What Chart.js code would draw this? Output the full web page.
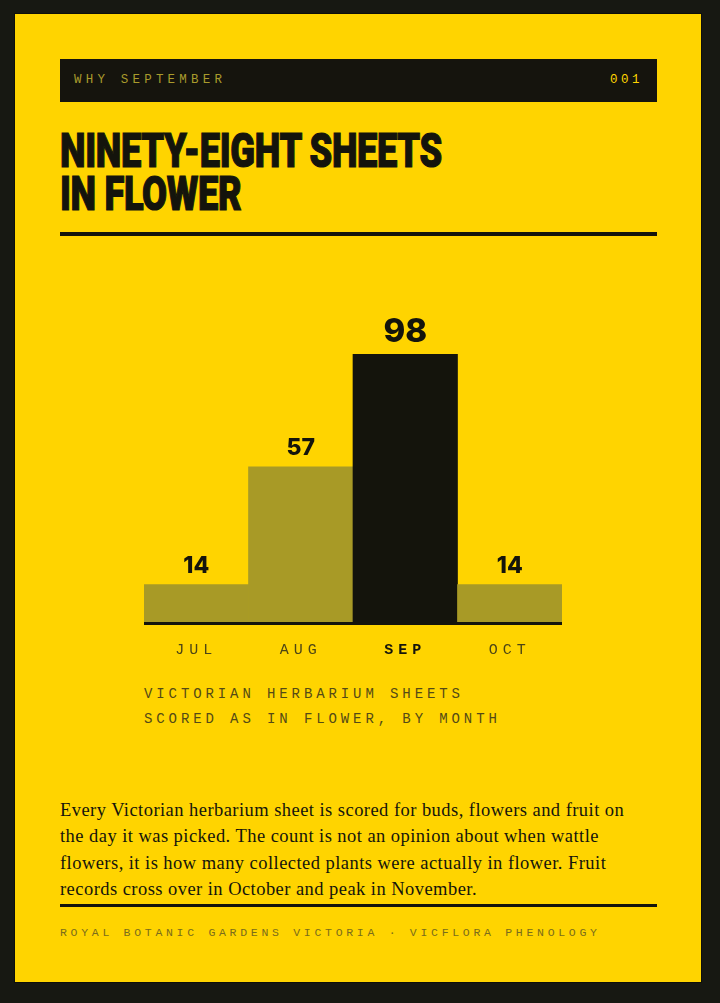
<!DOCTYPE html>
<html>
<head>
<meta charset="utf-8">
<script src="https://cdn.jsdelivr.net/npm/chart.js@4.4.1/dist/chart.umd.min.js"></script>
<style>
  html, body { margin: 0; padding: 0; }
  body { width: 720px; height: 1003px; background: #171812; position: relative; overflow: hidden; }
  .card { position: absolute; left: 14px; top: 13px; width: 686px; height: 968px; background: #ffd400; border: 1px solid #0e0f0a; }
  .abs { position: absolute; }
  .topbar { left: 60px; top: 59px; width: 597px; height: 43px; background: #15140d; }
  .mono { font-family: "Courier New", Courier, "Liberation Mono", "DejaVu Sans Mono", monospace; white-space: nowrap; }
  .kicker { left: 74px; top: 72px; font-size: 12.5px; letter-spacing: 4.2px; color: #a99b2c; line-height: 16px; }
  .num { right: 77px; top: 72px; font-size: 12.5px; letter-spacing: 3.5px; color: #ffd400; line-height: 16px; }
  .title { left: 60px; top: 129px; font-family: Roboto, "Liberation Sans", sans-serif; font-weight: 900; font-size: 49px; line-height: 43px; color: #14140c; letter-spacing: -0.5px; -webkit-text-stroke: 1.2px #14140c; }
  .title span { display: block; transform-origin: 0 0; white-space: nowrap; }
  .rule { left: 60px; width: 597px; background: #14140c; }
  .chartbox { left: 144px; top: 294px; width: 418px; height: 383px; }
  .caption { left: 144px; top: 682px; font-size: 14px; letter-spacing: 3.9px; line-height: 25px; color: #544a16; }
  .body { left: 60px; top: 797px; font-family: "Liberation Serif", "DejaVu Serif", serif; font-size: 18.5px; letter-spacing: 0.45px; line-height: 26.4px; color: #14140c; white-space: nowrap; }
  .foot { left: 60px; top: 926px; font-size: 11.5px; letter-spacing: 3.7px; color: #7a6c1c; line-height: 14px; }
</style>
</head>
<body>
<div class="card"></div>
<div class="abs topbar"></div>
<div class="abs mono kicker">WHY SEPTEMBER</div>
<div class="abs mono num">001</div>
<div class="abs title"><span id="t1">NINETY-EIGHT SHEETS</span><span id="t2">IN FLOWER</span></div>
<div class="abs rule" style="top:232px;height:4px"></div>
<div class="abs chartbox"><canvas id="chart"></canvas></div>
<div class="abs mono caption">VICTORIAN HERBARIUM SHEETS<br>SCORED AS IN FLOWER, BY MONTH</div>
<div class="abs body">Every Victorian herbarium sheet is scored for buds, flowers and fruit on<br>the day it was picked. The count is not an opinion about when wattle<br>flowers, it is how many collected plants were actually in flower. Fruit<br>records cross over in October and peak in November.</div>
<div class="abs rule" style="top:904px;height:3px"></div>
<div class="abs mono foot">ROYAL BOTANIC GARDENS VICTORIA · VICFLORA PHENOLOGY</div>

<script>
'use strict';

var months = ['JUL', 'AUG', 'SEP', 'OCT'];
var sheetsInFlower = [14, 57, 98, 14];
var highlightMonth = 'SEP';

var INK = '#14140c';
var OLIVE = '#a89a26';

// squeeze the headline into the width it has in the print layout
(function fitTitle() {
  var el = document.getElementById('t1');
  var el2 = document.getElementById('t2');
  var w = el.getBoundingClientRect().width;
  var s = 382 / w;
  el.style.transform = 'scaleX(' + s + ')';
  el2.style.transform = 'scaleX(' + s + ')';
})();

var isHi = function(i) { return months[i] === highlightMonth; };

var spacingPlugin = {
  id: 'tickSpacing',
  beforeDraw: function(chart) {
    chart.ctx.letterSpacing = '5px';
  }
};

var valueLabels = {
  id: 'valueLabels',
  afterDatasetsDraw: function(chart) {
    var ctx = chart.ctx;
    var meta = chart.getDatasetMeta(0);
    ctx.save();
    ctx.letterSpacing = '0px';
    ctx.fillStyle = INK;
    ctx.textAlign = 'center';
    ctx.textBaseline = 'alphabetic';
    meta.data.forEach(function(bar, i) {
      ctx.font = '800 ' + (isHi(i) ? 33 : 23) + 'px Inter, Roboto, sans-serif';
      ctx.fillText(String(sheetsInFlower[i]), bar.x, bar.y - 12);
    });
    ctx.restore();
  }
};

new Chart(document.getElementById('chart'), {
  type: 'bar',
  data: {
    labels: months,
    datasets: [{
      data: sheetsInFlower,
      backgroundColor: months.map(function(m, i) { return isHi(i) ? INK : OLIVE; }),
      borderWidth: 0,
      categoryPercentage: 1,
      barPercentage: 1
    }]
  },
  options: {
    responsive: true,
    maintainAspectRatio: false,
    animation: false,
    layout: { padding: 0 },
    plugins: { legend: { display: false }, tooltip: { enabled: false } },
    scales: {
      x: {
        grid: { display: false, drawTicks: false },
        border: { display: true, color: INK, width: 3, z: 1 },
        ticks: {
          padding: 18,
          color: function(c) { return isHi(c.index) ? INK : '#4d4515'; },
          font: function(c) {
            return { family: '"Courier New", Courier, "Liberation Mono", monospace', size: 15, weight: isHi(c.index) ? 'bold' : 'normal' };
          }
        }
      },
      y: { display: false, min: 0, max: 120 }
    }
  },
  plugins: [spacingPlugin, valueLabels]
});
</script>
</body>
</html>
